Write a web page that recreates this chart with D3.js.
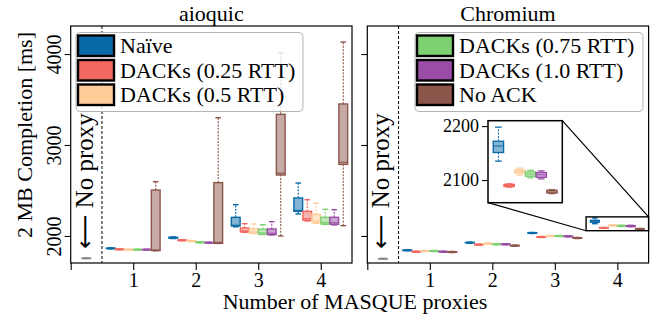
<!DOCTYPE html>
<html>
<head>
<meta charset="utf-8">
<script src="https://cdn.jsdelivr.net/npm/d3@7"></script>
<style>
  body { margin: 0; background: #fff; }
</style>
</head>
<body>
<div id="chart"></div>
<script>
// Series and colours
var categories = ["Naïve", "DACKs (0.25 RTT)", "DACKs (0.5 RTT)", "DACKs (0.75 RTT)", "DACKs (1.0 RTT)", "No ACK"];
var colors = ["#0a6aa8", "#f2685f", "#ffcc99", "#7dd171", "#9a4da7", "#8c564b"];
var groups = [1, 2, 3, 4];

// box stats per series, per group: [whisker low, q1, median, q3, whisker high]
var aioquicNaive = [[1858, 1861, 1864, 1867, 1870], [1972, 1976, 1981, 1986, 1990], [2100, 2110, 2118, 2205, 2344], [2242, 2271, 2282, 2418, 2582]];
var aioquicD025 = [[1848, 1850, 1853, 1856, 1858], [1947, 1950, 1953, 1956, 1959], [2040, 2044, 2055, 2088, 2135], [2165, 2172, 2190, 2271, 2399]];
var aioquicD05 = [[1845, 1847, 1850, 1853, 1855], [1938, 1941, 1945, 1948, 1951], [2027, 2030, 2045, 2080, 2132], [2140, 2147, 2165, 2238, 2359]];
var aioquicD075 = [[1845, 1847, 1850, 1853, 1855], [1925, 1928, 1931, 1934, 1937], [2016, 2019, 2035, 2074, 2124], [2127, 2132, 2150, 2205, 2293]];
var aioquicD10 = [[1845, 1847, 1850, 1853, 1855], [1920, 1923, 1926, 1929, 1932], [2012, 2015, 2030, 2077, 2157], [2122, 2128, 2145, 2205, 2289]];
var aioquicNoAck = [[1838, 1840, 1846, 2505, 2597], [1918, 1920, 1930, 2586, 3300], [2000, 2670, 2690, 3337, 4015], [2113, 2787, 2810, 3451, 4132]];

var chromiumNaive = [[1837, 1840, 1843, 1846, 1849], [1921, 1924, 1927, 1930, 1933], [2027, 2030, 2033, 2036, 2039], [2135, 2151, 2163, 2172, 2198]];
var chromiumD025 = [[1821, 1824, 1827, 1830, 1833], [1899, 1902, 1905, 1908, 1911], [1983, 1986, 1989, 1992, 1995], [2087, 2088, 2090, 2092, 2093]];
var chromiumD05 = [[1829, 1832, 1835, 1838, 1841], [1910, 1913, 1916, 1919, 1922], [1994, 1997, 2000, 2003, 2006], [2109, 2113, 2116, 2119, 2122]];
var chromiumD075 = [[1829, 1832, 1835, 1838, 1841], [1903, 1906, 1909, 1912, 1915], [1994, 1997, 2000, 2003, 2006], [2104, 2107, 2111, 2115, 2118]];
var chromiumD10 = [[1821, 1824, 1827, 1830, 1833], [1903, 1906, 1909, 1912, 1915], [1990, 1993, 1996, 1999, 2002], [2102, 2105, 2110, 2114, 2117]];
var chromiumNoAck = [[1818, 1821, 1824, 1827, 1830], [1888, 1891, 1894, 1897, 1900], [1972, 1975, 1978, 1981, 1984], [2075, 2076, 2078, 2081, 2082]];

var noProxyAioquic = [1751, 1753, 1755, 1757, 1759];
var noProxyChromium = [1746, 1748, 1750, 1752, 1754];

var xTicks = [0, 1, 2, 3, 4];
var xTickLabels = ["", "1", "2", "3", "4"];
var yTicks = [2000, 3000, 4000];
var insetTicks = [2100, 2200];

var aioquicStats = [aioquicNaive, aioquicD025, aioquicD05, aioquicD075, aioquicD10, aioquicNoAck];
var chromiumStats = [chromiumNaive, chromiumD025, chromiumD05, chromiumD075, chromiumD10, chromiumNoAck];

var W = 667, H = 324;
var plotTop = 26, plotBottom = 263;
var serif = "Liberation Serif";

var svg = d3.select("#chart")
  .append("svg")
    .attr("width", W)
    .attr("height", H)
    .attr("font-family", serif);

// shared y scale
var y = d3.scaleLinear().domain([1703, 4308]).range([plotBottom, plotTop]);

var panels = [
  { title: "aioquic", x0: 70.7, x1: 352, stats: aioquicStats, noProxy: noProxyAioquic, labels: true, legend: [0, 1, 2], lx: 76 },
  { title: "Chromium", x0: 367.3, x1: 648.6, stats: chromiumStats, noProxy: noProxyChromium, labels: false, legend: [3, 4, 5], lx: 415 }
];

var step = 0.144, boxW = 0.14, capW = 0.045;

function drawBox(g, x, yy, pos, s, color, lw) {
  var xa = x(pos - boxW / 2), xb = x(pos + boxW / 2);
  // whiskers
  g.append("line").attr("x1", x(pos)).attr("x2", x(pos)).attr("y1", yy(s[0])).attr("y2", yy(s[1]))
    .attr("stroke", color).attr("stroke-width", lw * 0.8).attr("stroke-dasharray", "2,1.3");
  g.append("line").attr("x1", x(pos)).attr("x2", x(pos)).attr("y1", yy(s[3])).attr("y2", yy(s[4]))
    .attr("stroke", color).attr("stroke-width", lw * 0.8).attr("stroke-dasharray", "2,1.3");
  // caps
  [s[0], s[4]].forEach(function(v) {
    g.append("line").attr("x1", x(pos - capW)).attr("x2", x(pos + capW)).attr("y1", yy(v)).attr("y2", yy(v))
      .attr("stroke", color).attr("stroke-width", lw);
  });
  // box
  g.append("rect")
    .attr("x", xa).attr("y", yy(s[3]))
    .attr("width", xb - xa).attr("height", Math.max(0.5, yy(s[1]) - yy(s[3])))
    .attr("fill", color).attr("fill-opacity", 0.5)
    .attr("stroke", color).attr("stroke-width", lw);
  // median
  g.append("line").attr("x1", xa).attr("x2", xb).attr("y1", yy(s[2])).attr("y2", yy(s[2]))
    .attr("stroke", color).attr("stroke-width", lw * 0.8);
}

panels.forEach(function(p, pi) {
  var x = d3.scaleLinear().domain([0, 4.5]).range([p.x0, p.x1]);
  p.x = x;
  var g = svg.append("g");

  // title
  g.append("text").attr("x", (p.x0 + p.x1) / 2).attr("y", 21)
    .attr("text-anchor", "middle").attr("font-size", 22).text(p.title);

  // x axis
  var xAxis = g.append("g")
    .attr("transform", "translate(0," + plotBottom + ")")
    .call(d3.axisBottom(x).tickValues(xTicks).tickFormat(function(d, i) { return xTickLabels[i]; }).tickSize(7).tickSizeOuter(0));
  xAxis.attr("font-family", serif).attr("font-size", 20);
  xAxis.select(".domain").remove();
  xAxis.selectAll("line").attr("stroke", "#000").attr("stroke-width", 1.1);
  xAxis.selectAll("text").attr("y", 9).attr("dy", "0.75em");

  // y axis
  var yAxis = g.append("g")
    .attr("transform", "translate(" + p.x0 + ",0)")
    .call(d3.axisLeft(y).tickValues(yTicks).tickSize(6).tickSizeOuter(0).tickFormat(p.labels ? d3.format("d") : ""));
  yAxis.attr("font-family", serif).attr("font-size", 20);
  yAxis.select(".domain").remove();
  yAxis.selectAll("line").attr("stroke", "#000").attr("stroke-width", 1.1);
  yAxis.selectAll("text")
    .attr("x", 0).attr("y", 0).attr("dy", 0)
    .attr("text-anchor", "middle")
    .attr("transform", "translate(-10,0) rotate(-90)");

  // dashed separator for the no-proxy baseline
  g.append("line").attr("x1", x(0.5)).attr("x2", x(0.5)).attr("y1", plotTop).attr("y2", plotBottom)
    .attr("stroke", "#000").attr("stroke-width", 1).attr("stroke-dasharray", "3,2");

  // "No proxy" label
  var np = g.append("text")
    .attr("transform", "translate(" + (x(0.25) + 6.5) + ",249) rotate(-90)")
    .attr("font-size", 25);
  np.append("tspan").attr("font-family", "DejaVu Sans").attr("font-size", 24).text("⟵");
  np.append("tspan").text(" No proxy");

  // no-proxy box
  drawBox(g, x, y, 0.25, p.noProxy, "#8a8a8a", 1.3);

  // boxes
  p.stats.forEach(function(ser, si) {
    ser.forEach(function(s, gi) {
      drawBox(g, x, y, groups[gi] + (si - 2.5) * step, s, colors[si], 1.4);
    });
  });

  // frame
  g.append("rect").attr("x", p.x0).attr("y", plotTop).attr("width", p.x1 - p.x0).attr("height", plotBottom - plotTop)
    .attr("fill", "none").attr("stroke", "#000").attr("stroke-width", 1.2);

  // legend
  var lg = g.append("g").attr("transform", "translate(" + p.lx + ",32.5)");
  var lw = pi === 0 ? 227 : 228;
  lg.append("rect").attr("width", lw).attr("height", 79).attr("rx", 4)
    .attr("fill", "#fff").attr("fill-opacity", 0.8).attr("stroke", "#b5b5b5").attr("stroke-width", 1);
  p.legend.forEach(function(ci, r) {
    lg.append("rect").attr("x", 2).attr("y", 3 + r * 24.5).attr("width", 36).attr("height", 20.5)
      .attr("fill", colors[ci]).attr("stroke", "#000").attr("stroke-width", 2.4);
    lg.append("text").attr("x", 44).attr("y", 20.5 + r * 24.5).attr("font-size", 22).text(categories[ci]);
  });
});

// y label and x label
svg.append("text")
  .attr("transform", "translate(32,135) rotate(-90)")
  .attr("text-anchor", "middle").attr("font-size", 22)
  .text("2 MB Completion [ms]");
svg.append("text")
  .attr("x", 355).attr("y", 309)
  .attr("text-anchor", "middle").attr("font-size", 22)
  .text("Number of MASQUE proxies");

// inset zoom on the 4-proxy group of Chromium
var pr = panels[1];
var xi = d3.scaleLinear().domain([3.5, 4.5]).range([488, 562.3]);
var yi = d3.scaleLinear().domain([2058, 2210]).range([202.7, 120.7]);

// zoom rectangle and connectors
svg.append("rect")
  .attr("x", pr.x(3.5)).attr("y", y(2210))
  .attr("width", pr.x(4.5) - pr.x(3.5)).attr("height", y(2058) - y(2210))
  .attr("fill", "none").attr("stroke", "#000").attr("stroke-width", 1.4);
svg.append("line").attr("x1", xi(3.5)).attr("y1", yi(2058)).attr("x2", pr.x(3.5)).attr("y2", y(2058))
  .attr("stroke", "#000").attr("stroke-width", 1.2);
svg.append("line").attr("x1", xi(4.5)).attr("y1", yi(2210)).attr("x2", pr.x(4.5)).attr("y2", y(2210))
  .attr("stroke", "#000").attr("stroke-width", 1.2);

svg.append("defs").append("clipPath").attr("id", "insetClip")
  .append("rect").attr("x", 488).attr("y", 120.7).attr("width", 74.3).attr("height", 82);

var ig = svg.append("g");
ig.append("rect").attr("x", 488).attr("y", 120.7).attr("width", 74.3).attr("height", 82).attr("fill", "#fff");
var ib = ig.append("g").attr("clip-path", "url(#insetClip)");
chromiumStats.forEach(function(ser, si) {
  ser.forEach(function(s, gi) {
    drawBox(ib, xi, yi, groups[gi] + (si - 2.5) * step, s, colors[si], 1.3);
  });
});
var iy = ig.append("g").attr("transform", "translate(488,0)")
  .call(d3.axisLeft(yi).tickValues(insetTicks).tickSize(6).tickSizeOuter(0).tickFormat(d3.format("d")));
iy.attr("font-family", serif).attr("font-size", 18);
iy.select(".domain").remove();
iy.selectAll("line").attr("stroke", "#000").attr("stroke-width", 1.1);
iy.selectAll("text").attr("x", -9);
ig.append("rect").attr("x", 488).attr("y", 120.7).attr("width", 74.3).attr("height", 82)
  .attr("fill", "none").attr("stroke", "#000").attr("stroke-width", 1.5);
</script>
</body>
</html>
